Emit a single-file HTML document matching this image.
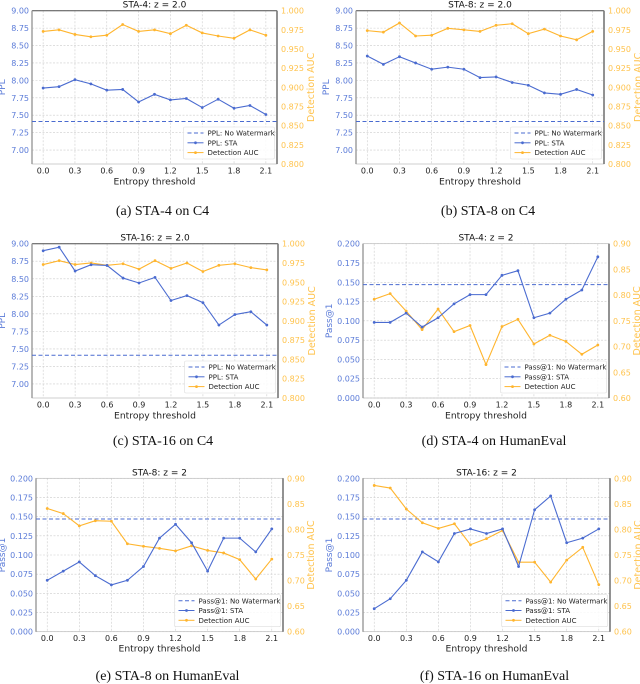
<!DOCTYPE html>
<html><head><meta charset="utf-8">
<style>
body{margin:0;background:#fff;}
svg{display:block;font-family:"DejaVu Sans","Liberation Sans",sans-serif;}
.cap{font-family:"Liberation Serif",serif;font-size:14px;fill:#111;}
</style></head>
<body>
<svg id="fig" width="640" height="684" viewBox="0 0 640 684"></svg>
<script>
const xs = [0,0.15,0.3,0.45,0.6,0.75,0.9,1.05,1.2,1.35,1.5,1.65,1.8,1.95,2.1];
const xTicks = [0,0.3,0.6,0.9,1.2,1.5,1.8,2.1];
const pplTicks = [7.00,7.25,7.50,7.75,8.00,8.25,8.50,8.75,9.00];
const aucTicksC4 = [0.800,0.825,0.850,0.875,0.900,0.925,0.950,0.975,1.000];
const passTicks = [0,0.025,0.05,0.075,0.1,0.125,0.15,0.175,0.2];
const aucTicksHE = [0.6,0.65,0.7,0.75,0.8,0.85,0.9];
const titles = ["STA-4: z = 2.0","STA-8: z = 2.0","STA-16: z = 2.0","STA-4: z = 2","STA-8: z = 2","STA-16: z = 2"];
const captions = ["(a) STA-4 on C4","(b) STA-8 on C4","(c) STA-16 on C4","(d) STA-4 on HumanEval","(e) STA-8 on HumanEval","(f) STA-16 on HumanEval"];
const baseline = [7.41,7.41,7.41,0.147,0.147,0.147];
const leftA = [7.89,7.91,8.01,7.95,7.86,7.87,7.69,7.80,7.72,7.74,7.61,7.73,7.60,7.64,7.51];
const rightA = [0.973,0.975,0.969,0.966,0.968,0.982,0.973,0.975,0.970,0.981,0.971,0.967,0.964,0.975,0.968];
const leftB = [8.35,8.23,8.34,8.25,8.16,8.19,8.16,8.04,8.05,7.97,7.93,7.82,7.80,7.87,7.79];
const rightB = [0.974,0.972,0.984,0.967,0.968,0.977,0.975,0.973,0.981,0.983,0.970,0.976,0.967,0.962,0.973];
const leftC = [8.90,8.95,8.61,8.70,8.69,8.51,8.44,8.52,8.19,8.26,8.16,7.84,7.99,8.03,7.84];
const rightC = [0.973,0.978,0.973,0.975,0.972,0.974,0.967,0.978,0.968,0.975,0.964,0.972,0.974,0.969,0.966];
const leftD = [0.098,0.098,0.110,0.092,0.104,0.122,0.134,0.134,0.159,0.165,0.104,0.110,0.128,0.140,0.183];
const rightD = [0.792,0.803,0.769,0.733,0.773,0.729,0.741,0.665,0.739,0.753,0.705,0.722,0.710,0.685,0.703];
const leftE = [0.067,0.079,0.091,0.073,0.061,0.067,0.085,0.122,0.140,0.116,0.079,0.122,0.122,0.104,0.134];
const rightE = [0.841,0.831,0.807,0.817,0.816,0.772,0.767,0.763,0.758,0.768,0.759,0.754,0.741,0.703,0.742];
const leftF = [0.030,0.043,0.067,0.104,0.091,0.128,0.134,0.128,0.134,0.085,0.159,0.177,0.116,0.122,0.134];
const rightF = [0.886,0.881,0.840,0.813,0.802,0.811,0.770,0.782,0.798,0.736,0.736,0.697,0.740,0.765,0.692];

const BLUE="#4a6bd0", ORANGE="#ffb52e", LBLUE="#5b7bd8", LORANGE="#ffc34d";
const NS="http://www.w3.org/2000/svg";
const svg=document.getElementById('fig');
function mk(tag,attrs,parent,text){const e=document.createElementNS(NS,tag);for(const k in attrs)e.setAttribute(k,attrs[k]);if(text!==undefined)e.textContent=text;(parent||svg).appendChild(e);return e;}

const panels=[
 {L:32,R:277,T:10.7,B:164,lmin:6.8,lmax:9.0,rmin:0.8,rmax:1.0,lt:pplTicks,rt:aucTicksC4,lf:2,rf:3,ly:leftA,ry:rightA,ylab:"PPL",c4:true,xl:181,cap:210},
 {L:356,R:604,T:10.7,B:164,lmin:6.8,lmax:9.0,rmin:0.8,rmax:1.0,lt:pplTicks,rt:aucTicksC4,lf:2,rf:3,ly:leftB,ry:rightB,ylab:"PPL",c4:true,xl:181,cap:210},
 {L:32,R:278,T:243.7,B:398,lmin:6.8,lmax:9.0,rmin:0.8,rmax:1.0,lt:pplTicks,rt:aucTicksC4,lf:2,rf:3,ly:leftC,ry:rightC,ylab:"PPL",c4:true,xl:415,cap:440},
 {L:363,R:609,T:243.7,B:398,lmin:0,lmax:0.2,rmin:0.6,rmax:0.9,lt:passTicks,rt:aucTicksHE,lf:3,rf:2,ly:leftD,ry:rightD,ylab:"Pass@1",c4:false,xl:415,cap:440},
 {L:36,R:283,T:478.3,B:631.7,lmin:0,lmax:0.2,rmin:0.6,rmax:0.9,lt:passTicks,rt:aucTicksHE,lf:3,rf:2,ly:leftE,ry:rightE,ylab:"Pass@1",c4:false,xl:648,cap:675},
 {L:363,R:610,T:478.3,B:631.7,lmin:0,lmax:0.2,rmin:0.6,rmax:0.9,lt:passTicks,rt:aucTicksHE,lf:3,rf:2,ly:leftF,ry:rightF,ylab:"Pass@1",c4:false,xl:648,cap:675}
];

panels.forEach((p,i)=>{
 const g=mk('g',{});
 
 
 const X=v=>p.L+(v+0.105)/2.31*(p.R-p.L);
 const YL=v=>p.B-(v-p.lmin)/(p.lmax-p.lmin)*(p.B-p.T);
 const YR=v=>p.B-(v-p.rmin)/(p.rmax-p.rmin)*(p.B-p.T);
 xTicks.forEach(t=>{const l=mk('line',{x1:X(t),x2:X(t),y1:p.T,y2:p.B,stroke:"#ccc","stroke-width":0.6,"stroke-dasharray":"2,1.5"},g);});
 p.lt.forEach(t=>{const l=mk('line',{x1:p.L,x2:p.R,y1:YL(t),y2:YL(t),stroke:"#ccc","stroke-width":0.6,"stroke-dasharray":"2,1.5"},g);});
 const fr=mk('rect',{x:p.L,y:p.T,width:p.R-p.L,height:p.B-p.T,fill:"none",stroke:"#bbb","stroke-width":0.7},g);
 
 if(p.c4){const ts=mk('line',{x1:p.L,x2:p.R,y1:p.T,y2:p.T,stroke:"#555","stroke-width":1},g);}
 const ls=mk('line',{x1:p.L,x2:p.L,y1:p.T,y2:p.B,stroke:"#999","stroke-width":1.4},g);
 
 const rs=mk('line',{x1:p.R,x2:p.R,y1:p.T,y2:p.B,stroke:"#777","stroke-width":1.6},g);
 
 xTicks.forEach(t=>{const e=mk('text',{x:X(t),y:p.B+9.5,"font-size":8,"text-anchor":"middle",fill:"#222"},g,t.toFixed(1));});
 p.lt.forEach(t=>{if(YL(t)<p.T-0.5)return;const e=mk('text',{x:p.L-3,y:YL(t)+3,"font-size":8,"text-anchor":"end",fill:LBLUE},g,t.toFixed(p.lf));});
 p.rt.forEach(t=>{const e=mk('text',{x:p.R+4,y:YR(t)+3,"font-size":8,"text-anchor":"start",fill:LORANGE},g,t.toFixed(p.rf));});
 const cx=(p.L+p.R)/2, cy=(p.T+p.B)/2;
 let e=mk('text',{x:cx,y:p.T-3,"font-size":9,"text-anchor":"middle",fill:"#111"},g,titles[i]);
 e=mk('text',{x:cx,y:p.xl+3.3,"font-size":9.2,"text-anchor":"middle",fill:"#222"},g,"Entropy threshold");
 const lx=p.L-(p.c4?27:31);
 e=mk('text',{x:lx,y:cy,"font-size":9,"text-anchor":"middle",fill:LBLUE,transform:`rotate(-90 ${lx} ${cy})`},g,p.ylab);
 const rx=p.R+(p.c4?37:31);
 e=mk('text',{x:rx,y:cy,"font-size":9.5,"text-anchor":"middle",fill:LORANGE,transform:`rotate(-90 ${rx} ${cy})`},g,"Detection AUC");
 e=mk('text',{x:cx+8,y:p.cap+5,class:"cap","text-anchor":"middle"},g,captions[i]);
 e=mk('line',{x1:p.L,x2:p.R,y1:YL(baseline[i]),y2:YL(baseline[i]),stroke:BLUE,"stroke-width":1,"stroke-dasharray":"4,2.5"},g);
 function series(arr,Y,col,name){
  const pts=arr.map((v,k)=>X(xs[k]).toFixed(2)+","+Y(v).toFixed(2)).join(" ");
  const pl=mk('polyline',{points:pts,fill:"none",stroke:col,"stroke-width":1.1},g);
  
  arr.forEach((v,k)=>{const c=mk('circle',{cx:X(xs[k]),cy:Y(v),r:1.4,fill:col},g);});
 }
 series(p.ry,YR,ORANGE,'auc');
 series(p.ly,YL,BLUE,'sta');
 const w=p.c4?91:106,h=32, lx0=p.R-w-2.5, ly0=p.B-h-5;
 const lg=mk('g',{},g);
 mk('rect',{x:lx0,y:ly0,width:w,height:h,fill:"#fff","fill-opacity":0.85,stroke:"#ddd","stroke-width":0.6,rx:1.5},lg);
 const names=[(p.c4?"PPL":"Pass@1")+": No Watermark",(p.c4?"PPL":"Pass@1")+": STA","Detection AUC"];
 names.forEach((n,k)=>{
  const yy=ly0+6+k*9.8;
  const ent=mk('g',{},lg);
  const col=k==2?ORANGE:BLUE;
  mk('line',{x1:lx0+4,x2:lx0+20,y1:yy,y2:yy,stroke:col,"stroke-width":1,"stroke-dasharray":k==0?"4,2.5":"none"},ent);
  if(k>0)mk('circle',{cx:lx0+12,cy:yy,r:1.4,fill:col},ent);
  mk('text',{x:lx0+24,y:yy+2.6,"font-size":7,fill:"#222"},ent,n);
 });
});
</script>
</body></html>
